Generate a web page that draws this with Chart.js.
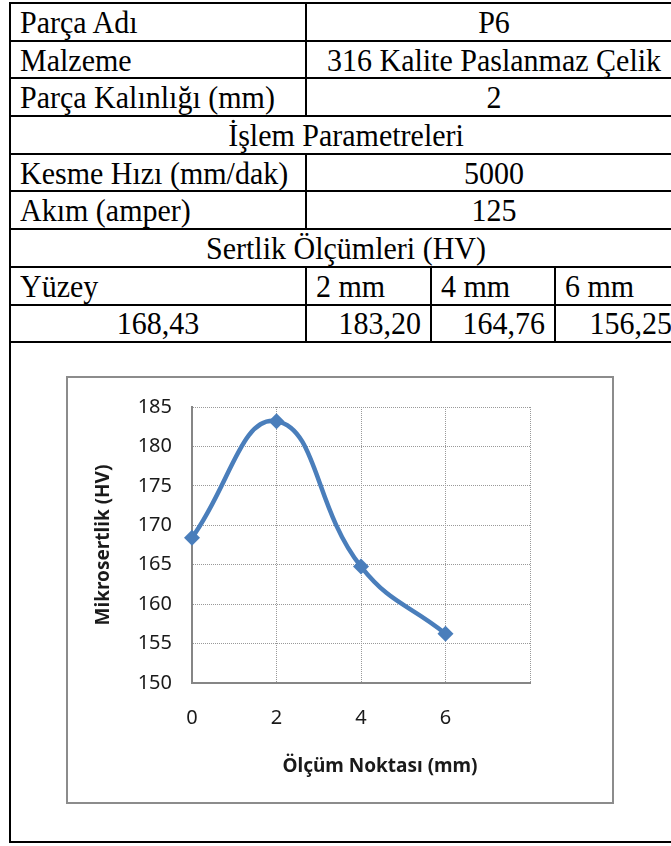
<!DOCTYPE html>
<html lang="tr">
<head>
<meta charset="utf-8">
<script src="https://cdn.jsdelivr.net/npm/chart.js@4/dist/chart.umd.min.js"></script>
<style>
  body {
    margin: 0;
    width: 671px;
    height: 846px;
    overflow: hidden;
    background: #fff;
    position: relative;
  }
  #info {
    position: absolute;
    left: 9px;
    top: 2px;
    width: 672px;
    border-collapse: collapse;
    table-layout: fixed;
    font-family: "Liberation Serif", "Times New Roman", serif;
    font-size: 30px;
    color: #000;
  }
  #info td {
    border: 2px solid #000;
    height: 35.7px;
    padding: 0 9px;
    line-height: 34px;
    white-space: nowrap;
    overflow: hidden;
  }
  #info td span {
    display: inline-block;
    transform: scaleY(1.08);
  }
  #info td.c { text-align: center; }
  #info td.r { text-align: right; }
  #info td.plot { height: 498px; }
  #frame {
    position: absolute;
    left: 66px;
    top: 376px;
    width: 544px;
    height: 424px;
    border: 2px solid #8c8c8c;
    background: #fff;
  }
</style>
</head>
<body>
<table id="info">
  <colgroup>
    <col style="width:296px"><col style="width:125px"><col style="width:124px"><col style="width:127px">
  </colgroup>
  <tbody id="infoBody"></tbody>
</table>
<div id="frame"><canvas id="hardnessChart" width="544" height="424"></canvas></div>
<script>
// part details
const partRows = [
    ['Parça Adı', 'P6'],
    ['Malzeme', '316 Kalite Paslanmaz Çelik'],
    ['Parça Kalınlığı (mm)', '2']
];
const processTitle = 'İşlem Parametreleri';
const processRows = [
    ['Kesme Hızı (mm/dak)', '5000'],
    ['Akım (amper)', '125']
];
const hardnessTitle = 'Sertlik Ölçümleri (HV)';

// hardness measurements
const depthLabels = ['Yüzey', '2 mm', '4 mm', '6 mm'];
const depthMm = [0, 2, 4, 6];
const hardnessHV = [168.43, 183.20, 164.76, 156.25];

const xAxisTitle = 'Ölçüm Noktası (mm)';
const yAxisTitle = 'Mikrosertlik (HV)';

const FONT = 'Noto Sans';
const LINE_BLUE = '#4a7ebb';

function buildTable() {
    const body = document.getElementById('infoBody');
    const cell = (text, cls, span) =>
        `<td${cls ? ` class="${cls}"` : ''}${span ? ` colspan="${span}"` : ''}><span>${text}</span></td>`;
    let html = '';
    const pairRow = r => `<tr>${cell(r[0])}${cell(r[1], 'c', 3)}</tr>`;
    const titleRow = t => `<tr>${cell(t, 'c', 4)}</tr>`;

    partRows.forEach(r => html += pairRow(r));
    html += titleRow(processTitle);
    processRows.forEach(r => html += pairRow(r));
    html += titleRow(hardnessTitle);

    html += '<tr>' + depthLabels.map(l => cell(l)).join('') + '</tr>';
    html += '<tr>' + hardnessHV.map((v, i) =>
        cell(v.toFixed(2).replace('.', ','), i === 0 ? 'c' : 'r')).join('') + '</tr>';
    html += '<tr><td class="plot" colspan="4"></td></tr>';
    body.innerHTML = html;
}

// x axis title sits a bit right of the plot centre
const xTitlePlugin = {
    id: 'xTitle',
    afterDraw(chart) {
        const {ctx, chartArea} = chart;
        ctx.save();
        ctx.font = `bold 19px "${FONT}"`;
        ctx.fillStyle = '#1a1a1a';
        ctx.textAlign = 'center';
        ctx.textBaseline = 'middle';
        ctx.fillText(xAxisTitle, chartArea.left + 188, chartArea.bottom + 84);
        ctx.restore();
    }
};

function buildChart() {
    const ctx = document.getElementById('hardnessChart').getContext('2d');
    const tickFont = {family: FONT, size: 20};

    new Chart(ctx, {
        type: 'line',
        data: {
            datasets: [{
                data: depthMm.map((x, i) => ({x: x, y: hardnessHV[i]})),
                borderColor: LINE_BLUE,
                backgroundColor: LINE_BLUE,
                borderWidth: 4.5,
                tension: 0.45,
                pointStyle: 'rectRot',
                pointRadius: 8,
                pointBorderWidth: 0,
                clip: false
            }]
        },
        options: {
            responsive: false,
            animation: false,
            events: [],
            layout: {padding: {top: 29, right: 82, left: 0, bottom: 0}},
            plugins: {
                legend: {display: false},
                tooltip: {enabled: false}
            },
            scales: {
                x: {
                    type: 'linear',
                    min: 0,
                    max: 8,
                    ticks: {
                        stepSize: 2,
                        padding: 23,
                        color: '#1a1a1a',
                        font: tickFont,
                        callback: v => (v === 8 ? '' : v)
                    },
                    grid: {color: '#999999', lineWidth: 1, drawTicks: false},
                    border: {color: '#868686', width: 2, dash: [1, 1]},
                    afterFit: s => {
                        s.height = 119;
                        s.paddingLeft = 0;
                        s.paddingRight = 0;
                    }
                },
                y: {
                    min: 150,
                    max: 185,
                    ticks: {
                        stepSize: 5,
                        padding: 20,
                        color: '#1a1a1a',
                        font: tickFont
                    },
                    grid: {color: '#999999', lineWidth: 1, drawTicks: false},
                    border: {color: '#868686', width: 2, dash: [1, 1]},
                    title: {
                        display: true,
                        text: yAxisTitle,
                        color: '#1a1a1a',
                        font: {family: FONT, size: 19, weight: 'bold'},
                        padding: {top: 24, bottom: 0}
                    },
                    afterFit: s => {
                        s.width = 124;
                        s.paddingTop = 0;
                        s.paddingBottom = 0;
                    }
                }
            }
        },
        plugins: [xTitlePlugin]
    });
}

buildTable();
buildChart();
</script>
</body>
</html>
